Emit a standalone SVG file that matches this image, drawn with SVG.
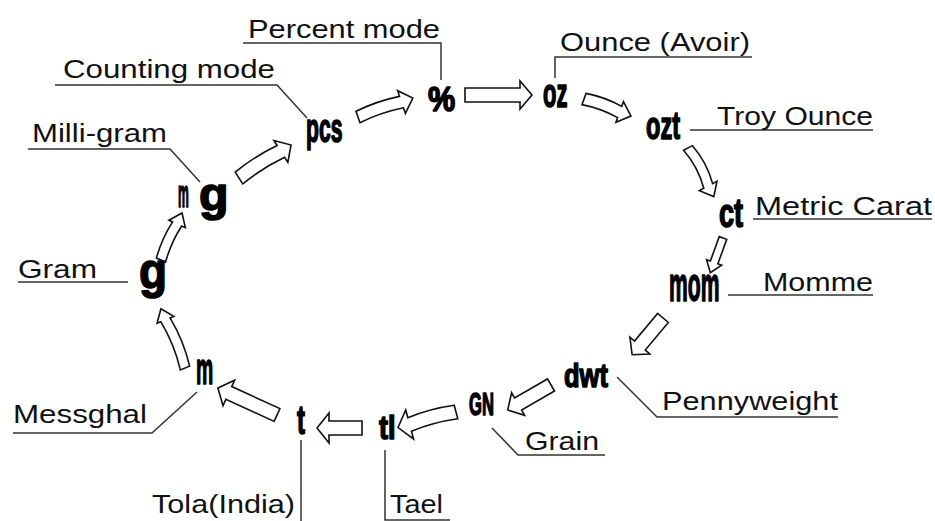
<svg xmlns="http://www.w3.org/2000/svg" width="935" height="521" viewBox="0 0 935 521">
<style>
.lbl{font-family:"Liberation Sans",Arial,sans-serif;font-size:26px;fill:#111}
.sym{font-family:"Liberation Sans",Arial,sans-serif;font-weight:bold;fill:#000;stroke:#000;stroke-width:1.6;stroke-linejoin:round}
.ldr{stroke:#333;stroke-width:1.5;fill:none}
.arr{stroke:#111;stroke-width:1.6;fill:#fff;stroke-linejoin:miter}
</style>
<rect width="935" height="521" fill="#fff"/>
<g id="connectors">
<path class="arr" transform="translate(358,117) rotate(-19)" d="M0,-6 Q23,-9 46,-6 L46,-12 L58,0 L46,12 L46,6 Q23,3 0,6 Z"/>
<path class="arr" transform="translate(465,95)" d="M0,-7 L55,-7 L55,-14 L67,0 L55,14 L55,7 L0,7 Z"/>
<path class="arr" transform="translate(584,99) rotate(20)" d="M0,-6 Q19,-9 38,-6 L38,-11 L50,0 L38,11 L38,6 Q19,3 0,6 Z"/>
<path class="arr" transform="translate(688,148) rotate(62)" d="M0,-5 Q21.5,-10 43,-5 L43,-10 L55,0 L43,10 L43,5 Q21.5,0 0,5 Z"/>
<path class="arr" transform="translate(723,238) rotate(110)" d="M0,-4 L26,-4 L26,-8 L37,0 L26,8 L26,4 L0,4 Z"/>
<path class="arr" transform="translate(663,318) rotate(130)" d="M0,-7 L36,-7 L36,-13 L48,0 L36,13 L36,7 L0,7 Z"/>
<path class="arr" transform="translate(551,385) rotate(150)" d="M0,-7 L38,-7 L38,-13 L50,0 L38,13 L38,7 L0,7 Z"/>
<path class="arr" transform="translate(456,412) rotate(165)" d="M0,-7 Q24,-4 48,-7 L48,-15 L60,0 L48,15 L48,7 Q24,10 0,7 Z"/>
<path class="arr" transform="translate(362,428) rotate(180)" d="M0,-7 L33,-7 L33,-15 L45,0 L33,15 L33,7 L0,7 Z"/>
<path class="arr" transform="translate(277,415) rotate(204.6)" d="M0,-7 L53,-7 L53,-14 L65,0 L53,14 L53,7 L0,7 Z"/>
<path class="arr" transform="translate(185,368) rotate(247.9)" d="M0,-5 Q26,-1 52,-5 L52,-9 L64,0 L52,9 L52,5 Q26,9 0,5 Z"/>
<path class="arr" transform="translate(161,260) rotate(-65.9)" d="M0,-5 Q20,-8 39.5,-5 L39.5,-9 L51.5,0 L39.5,9 L39.5,5 Q20,2 0,5 Z"/>
<path class="arr" transform="translate(239,178) rotate(-32.4)" d="M0,-7 Q25,-10 49.6,-7 L49.6,-13 L61.6,0 L49.6,13 L49.6,7 Q25,4 0,7 Z"/>
</g>
<g id="percent">
<text class="sym" font-size="36" transform="translate(428,111) scale(0.85,1)">%</text>
<path class="ldr" d="M243,43 H441 V80"/>
<text class="lbl" x="248" y="38" textLength="192" lengthAdjust="spacingAndGlyphs">Percent mode</text>
</g>
<g id="oz">
<text class="sym" font-size="40" transform="translate(543,107) scale(0.55,1)">oz</text>
<path class="ldr" d="M555,78 V57 H752"/>
<text class="lbl" x="560" y="51" textLength="190" lengthAdjust="spacingAndGlyphs">Ounce (Avoir)</text>
</g>
<g id="ozt">
<text class="sym" font-size="38" transform="translate(646,139) scale(0.62,1)">ozt</text>
<path class="ldr" d="M690,130 H873"/>
<text class="lbl" x="717" y="125" textLength="156" lengthAdjust="spacingAndGlyphs">Troy Ounce</text>
</g>
<g id="ct">
<text class="sym" font-size="40" transform="translate(719,227) scale(0.68,1)">ct</text>
<path class="ldr" d="M753,219 H932"/>
<text class="lbl" x="755" y="215" textLength="177" lengthAdjust="spacingAndGlyphs">Metric Carat</text>
</g>
<g id="mom">
<text class="sym" font-size="48" transform="translate(669,301) scale(0.44,1)">mom</text>
<path class="ldr" d="M728,295 H873"/>
<text class="lbl" x="763" y="291" textLength="110" lengthAdjust="spacingAndGlyphs">Momme</text>
</g>
<g id="dwt">
<text class="sym" font-size="34" transform="translate(564,387) scale(0.75,1)">dwt</text>
<path class="ldr" d="M617,377 L657,417 H838"/>
<text class="lbl" x="662" y="410" textLength="176" lengthAdjust="spacingAndGlyphs">Pennyweight</text>
</g>
<g id="gn">
<text class="sym" font-size="32" transform="translate(469,415) scale(0.52,1)">GN</text>
<path class="ldr" d="M492,428 L518,455 H605"/>
<text class="lbl" x="525" y="450" textLength="74" lengthAdjust="spacingAndGlyphs">Grain</text>
</g>
<g id="tl">
<text class="sym" font-size="34" transform="translate(379,439) scale(0.8,1)">tl</text>
<path class="ldr" d="M385,450 V520 H450"/>
<text class="lbl" x="390" y="513" textLength="53" lengthAdjust="spacingAndGlyphs">Tael</text>
</g>
<g id="t">
<text class="sym" font-size="40" transform="translate(297,434) scale(0.6,1)">t</text>
<path class="ldr" d="M301,440 V521"/>
<text class="lbl" x="152" y="513" textLength="143" lengthAdjust="spacingAndGlyphs">Tola(India)</text>
</g>
<g id="m">
<text class="sym" font-size="44" transform="translate(196,384) scale(0.44,1)">m</text>
<path class="ldr" d="M13,433 H152 L197,392"/>
<text class="lbl" x="13" y="423" textLength="134" lengthAdjust="spacingAndGlyphs">Messghal</text>
</g>
<g id="g">
<text class="sym" font-size="50" transform="translate(139,288) scale(0.92,1)">g</text>
<path class="ldr" d="M18,282 H128"/>
<text class="lbl" x="18" y="278" textLength="79" lengthAdjust="spacingAndGlyphs">Gram</text>
</g>
<g id="mg">
<text class="sym" font-size="38" transform="translate(178,207) scale(0.32,1)">m</text>
<text class="sym" font-size="46" transform="translate(199,210) scale(1.05,1)">g</text>
<path class="ldr" d="M28,149 H170 L200,182"/>
<text class="lbl" x="32" y="142" textLength="135" lengthAdjust="spacingAndGlyphs">Milli-gram</text>
</g>
<g id="pcs">
<text class="sym" font-size="40" transform="translate(306,142) scale(0.53,1)">pcs</text>
<path class="ldr" d="M55,85 H277 L307,118"/>
<text class="lbl" x="63" y="78" textLength="212" lengthAdjust="spacingAndGlyphs">Counting mode</text>
</g>
</svg>
